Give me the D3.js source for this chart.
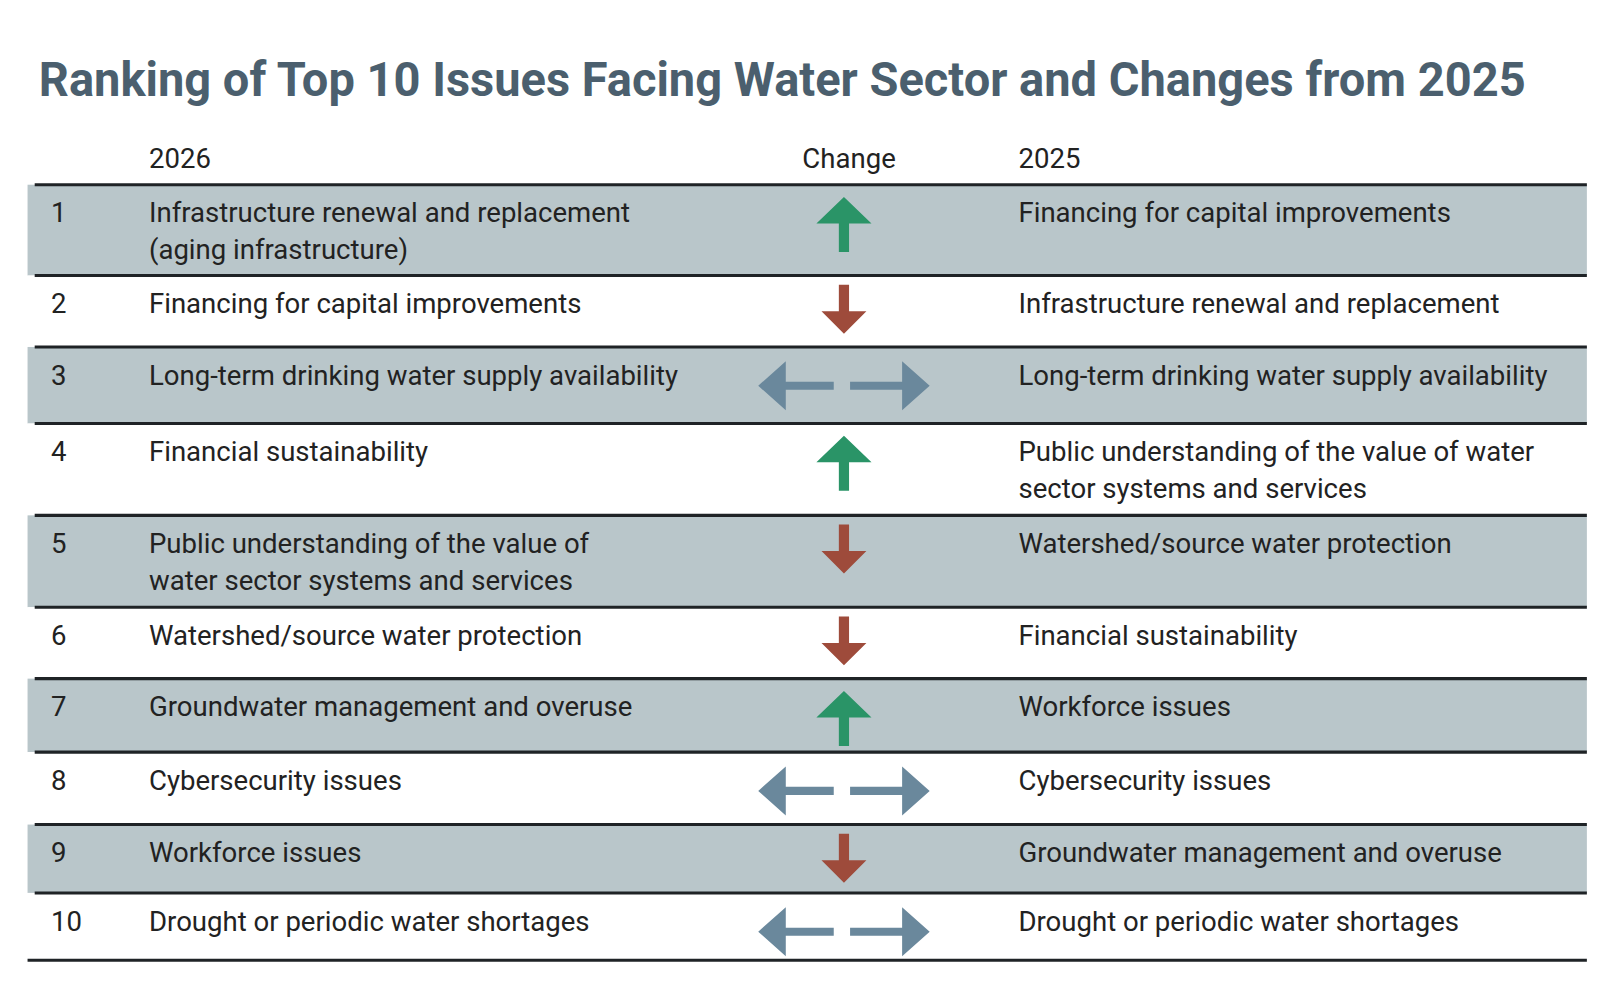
<!DOCTYPE html>
<html><head><meta charset="utf-8">
<script src="https://cdn.jsdelivr.net/npm/d3@7"></script>
<style>body{margin:0;background:#fff}</style></head>
<body><svg id="c" width="1600" height="984"></svg>
<script>
const ranks = ["1","2","3","4","5","6","7","8","9","10"];
const issues2026 = [
 ["Infrastructure renewal and replacement","(aging infrastructure)"],
 ["Financing for capital improvements"],
 ["Long-term drinking water supply availability"],
 ["Financial sustainability"],
 ["Public understanding of the value of","water sector systems and services"],
 ["Watershed/source water protection"],
 ["Groundwater management and overuse"],
 ["Cybersecurity issues"],
 ["Workforce issues"],
 ["Drought or periodic water shortages"]];
const changes = ["up","down","same","up","down","down","up","same","down","same"];
const issues2025 = [
 ["Financing for capital improvements"],
 ["Infrastructure renewal and replacement"],
 ["Long-term drinking water supply availability"],
 ["Public understanding of the value of water","sector systems and services"],
 ["Watershed/source water protection"],
 ["Financial sustainability"],
 ["Workforce issues"],
 ["Cybersecurity issues"],
 ["Groundwater management and overuse"],
 ["Drought or periodic water shortages"]];
const rowBounds = [181,270,340,415,505,595,665,737,808,875,941];

const svg = d3.select("#c").append("g").attr("transform","scale(1.0205)");
const font = "Roboto, 'Noto Sans', sans-serif";
svg.append("text").attr("x",38).attr("y",94).attr("font-family",font).attr("font-weight",700)
 .attr("font-size",48).attr("fill","#4b5f6e").attr("textLength",1457).attr("lengthAdjust","spacingAndGlyphs")
 .text("Ranking of Top 10 Issues Facing Water Sector and Changes from 2025");

const hdr = svg.append("g").attr("font-family",font).attr("font-size",27).attr("fill","#222");
hdr.append("text").attr("x",146).attr("y",165).text("2026");
hdr.append("text").attr("x",832).attr("y",165).attr("text-anchor","middle").text("Change");
hdr.append("text").attr("x",998).attr("y",165).text("2025");

const rows = svg.append("g").selectAll("g").data(ranks).join("g");
rows.append("rect").attr("x",27).attr("width",1528)
 .attr("y",(d,i)=>rowBounds[i]).attr("height",(d,i)=>rowBounds[i+1]-rowBounds[i])
 .attr("fill",(d,i)=>i%2===0?"#b9c6ca":"#fff");

function textBlock(g, lines, x, top){
  const t = g.append("text").attr("font-family",font).attr("font-size",27).attr("fill","#222");
  lines.forEach((l,k)=>t.append("tspan").attr("x",x).attr("y",top+37+k*36).text(l));
}
rows.each(function(d,i){
  const g=d3.select(this), top=rowBounds[i];
  textBlock(g,[d],50,top);
  textBlock(g,issues2026[i],146,top);
  textBlock(g,issues2025[i],998,top);
  const cx=827, cy=top+38, c=changes[i];
  if(c==="up"){
    g.append("path").attr("fill","#2a9467")
     .attr("d",`M${cx},${cy-26} L${cx+27},${cy} L${cx+5},${cy} L${cx+5},${cy+28} L${cx-5},${cy+28} L${cx-5},${cy} L${cx-27},${cy} Z`);
  } else if(c==="down"){
    const t=top+9;
    g.append("path").attr("fill","#9e4b3b")
     .attr("d",`M${cx-5},${t} L${cx+5},${t} L${cx+5},${t+26} L${cx+22},${t+26} L${cx},${t+48} L${cx-22},${t+26} L${cx-5},${t+26} Z`);
  } else {
    const col="#6a889c";
    g.append("path").attr("fill",col)
     .attr("d",`M743,${cy} L770,${cy-24} L770,${cy-4} L817,${cy-4} L817,${cy+4} L770,${cy+4} L770,${cy+24} Z`);
    g.append("path").attr("fill",col)
     .attr("d",`M911,${cy} L884,${cy-24} L884,${cy-4} L833,${cy-4} L833,${cy+4} L884,${cy+4} L884,${cy+24} Z`);
  }
});
svg.append("g").selectAll("line").data(rowBounds).join("line")
 .attr("x1",(d,i)=>i===rowBounds.length-1?27:34).attr("x2",1555).attr("y1",d=>d).attr("y2",d=>d)
 .attr("stroke","#1f2326").attr("stroke-width",3);
</script></body></html>
